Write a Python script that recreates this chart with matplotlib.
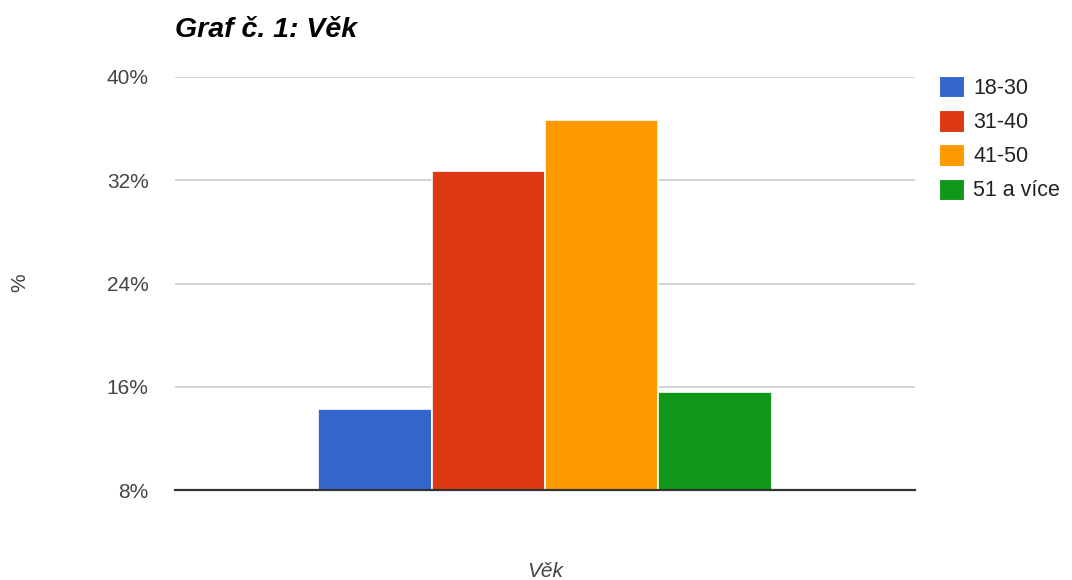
import matplotlib
matplotlib.use('Agg')
import matplotlib.pyplot as plt
from matplotlib.patches import Patch

plt.rcParams['font.family'] = ['Liberation Sans', 'DejaVu Sans']

# Age groups and their share of respondents (%)
groups = ['18-30', '31-40', '41-50', '51 a více']
shares = [14.3, 32.7, 36.7, 15.6]
colors = ['#3366cc', '#dc3912', '#ff9900', '#109618']
yticks = [8, 16, 24, 32, 40]

W, H = 1072, 580
fig = plt.figure(figsize=(W / 100, H / 100), dpi=100)
ax = fig.add_axes([175 / W, 1 - 490 / H, (915 - 175) / W, (490 - 77) / H])

# one category, four bars side by side
offsets = [i - (len(groups) - 1) / 2 for i in range(len(groups))]
ax.bar(offsets, shares, width=1.0, color=colors, edgecolor='white',
       linewidth=1.2, zorder=2)

ax.set_xlim(-3.26, 3.26)
ax.set_ylim(8, 40)
ax.set_yticks(yticks)
ax.set_yticklabels([f'{t}%' for t in yticks], fontsize=15, color='#444444')
ax.tick_params(axis='y', length=0, pad=19)
ax.set_xticks([])
ax.grid(axis='y', color='#cccccc', linewidth=1.2, zorder=0)
for s in ax.spines.values():
    s.set_visible(False)
ax.axhline(8, color='#333333', linewidth=1.6, zorder=3, clip_on=False)

fig.text(175 / W, 1 - 37 / H, 'Graf č. 1: Věk', fontsize=20.5,
         fontweight='bold', fontstyle='italic', color='#000000',
         ha='left', va='baseline')
fig.text(20 / W, 1 - 283 / H, '%', fontsize=15, color='#444444',
         rotation=90, ha='center', va='center')
fig.text(545 / W, 1 - 577 / H, 'Věk', fontsize=15, fontstyle='italic',
         color='#444444', ha='center', va='baseline')

handles = [Patch(facecolor=c, edgecolor='white', linewidth=0.8) for c in colors]
fig.legend(handles, groups, loc='upper left',
           bbox_to_anchor=(939 / W, 1 - 76 / H), bbox_transform=fig.transFigure,
           frameon=False, fontsize=15.5, labelcolor='#222222',
           handlelength=1.15, handleheight=1.15, handletextpad=0.45,
           labelspacing=0.52, borderpad=0, borderaxespad=0)

fig.savefig('out.png', dpi=100, facecolor='white')
